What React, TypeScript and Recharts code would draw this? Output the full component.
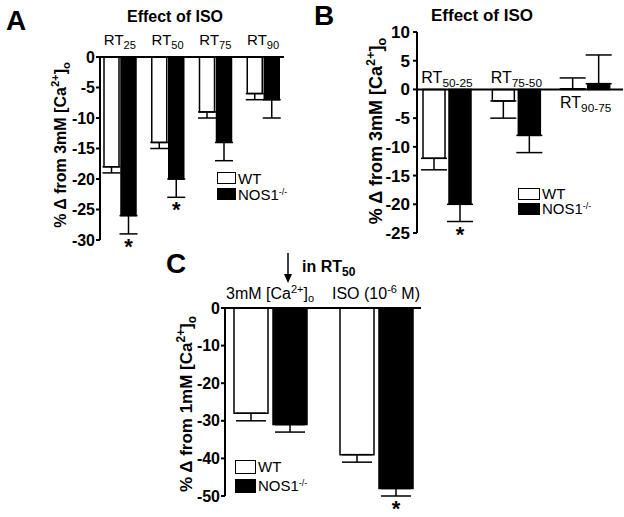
import React from 'react';
import { BarChart, Bar, XAxis, YAxis, ErrorBar, ReferenceLine, Legend } from 'recharts';

const FONT = '"Liberation Sans", Arial, Helvetica, sans-serif';

// Panel A: effect of ISO on relaxation times
const catsA = ['25', '50', '75', '90'];
const wtA = [-18, -14, -9, -6];
const wtErrA = [1, 1, 1, 1];
const nosA = [-26, -20, -14, -7];
const nosErrA = [3, 3, 3, 3];
const sigA = [true, true, false, false];
const ticksA = [0, -5, -10, -15, -20, -25, -30];

// Panel B: differences between relaxation times
const catsB = ['50-25', '75-50', '90-75'];
const wtB = [-12, -2, 0.1];
const wtErrB = [2, 3, 1.9];
const nosB = [-20, -8, 1];
const nosErrB = [3, 3, 5];
const sigB = [true, false, false];
const ticksB = [10, 5, 0, -5, -10, -15, -20, -25];

// Panel C: RT50, 3mM Ca vs ISO
const catsC = ['ca', 'iso'];
const wtC = [-28, -39];
const wtErrC = [2, 2];
const nosC = [-31, -48];
const nosErrC = [2, 2];
const sigC = [false, true];
const ticksC = [0, -10, -20, -30, -40, -50];

const legendOrder = ['WT', 'NOS1'];

// error bars only drawn away from zero
const oneSided = (v: number, e: number) => (v < 0 ? [e, 0] : [0, e]);

const buildRows = (cats: string[], wt: number[], wtErr: number[], nos: number[], nosErr: number[], sig: boolean[]) =>
  cats.map((c, i) => ({
    cat: c,
    wt: wt[i],
    nos: nos[i],
    wtErr: oneSided(wt[i], wtErr[i]),
    nosErr: oneSided(nos[i], nosErr[i]),
    err: nosErr[i],
    sig: sig[i],
  }));

const rowsA = buildRows(catsA, wtA, wtErrA, nosA, nosErrA, sigA);
const rowsB = buildRows(catsB, wtB, wtErrB, nosB, nosErrB, sigB);
const rowsC = buildRows(catsC, wtC, wtErrC, nosC, nosErrC, sigC);

const RtLabel = ({ x, y, sub, size = 15 }: any) => (
  <text x={x} y={y} textAnchor="middle" fontFamily={FONT} fontSize={size} fill="#000">
    RT<tspan fontSize={size * 0.74} dy={4}>{sub}</tspan>
  </text>
);

const RtTick = (props: any) => <RtLabel x={props.x} y={props.y - 12} sub={props.payload.value} />;

const CTick = (props: any) => {
  const { x, y, payload } = props;
  if (payload.value === 'ca') {
    return (
      <text x={x} y={y - 9} textAnchor="middle" fontFamily={FONT} fontSize={16} fill="#000">
        3mM [Ca<tspan fontSize={11} dy={-6}>2+</tspan>
        <tspan dy={6}>]</tspan>
        <tspan fontSize={11} dy={3}>o</tspan>
      </text>
    );
  }
  return (
    <text x={x} y={y - 9} textAnchor="middle" fontFamily={FONT} fontSize={16} fill="#000">
      ISO (10<tspan fontSize={11} dy={-6}>-6</tspan>
      <tspan dy={6}> M)</tspan>
    </text>
  );
};

// black bar + significance star (+ optional category label for panel B)
const makeNosShape = (gap: number, withCat: boolean) => (props: any) => {
  const { x, y, width, height, payload } = props;
  const base = y + height;
  const top = Math.min(y, base);
  const h = Math.abs(height);
  const v = payload.nos;
  const errEnd = v !== 0 ? base + ((y - base) * (v - payload.err)) / v : base;
  return (
    <g>
      <rect x={x} y={top} width={width} height={h} fill="#000" stroke="#000" strokeWidth={1.5} />
      {payload.sig && (
        <text x={x + width / 2} y={errEnd + 20} textAnchor="middle" fontFamily={FONT} fontWeight="bold" fontSize={22} fill="#000">
          *
        </text>
      )}
      {withCat && <RtLabel x={x - gap / 2} y={v > 0 ? base + 19 : base - 6} sub={payload.cat} size={16} />}
    </g>
  );
};

const LegendBox = ({ payload, box, pitch }: any) => {
  const items = [...(payload || [])].sort((a: any, b: any) => legendOrder.indexOf(a.value) - legendOrder.indexOf(b.value));
  return (
    <div style={{ fontFamily: FONT, fontSize: 15, color: '#000', lineHeight: 1 }}>
      {items.map((p: any) => (
        <div key={p.value} style={{ display: 'flex', alignItems: 'center', height: pitch, whiteSpace: 'nowrap' }}>
          <span
            style={{
              display: 'inline-block',
              width: box[0],
              height: box[1],
              background: p.color,
              border: '1.5px solid #000',
              boxSizing: 'border-box',
              marginRight: 2,
            }}
          />
          <span style={{ lineHeight: 1 }}>
            {p.value}
            {p.value === 'NOS1' && <sup style={{ fontSize: 9, verticalAlign: 5, lineHeight: 0 }}>-/-</sup>}
          </span>
        </div>
      ))}
    </div>
  );
};

const YLabel = ({ x, y, size, conc }: any) => (
  <text transform={`translate(${x},${y}) rotate(-90)`} textAnchor="middle" fontFamily={FONT} fontWeight="bold" fontSize={size} fill="#000">
    % Δ from {conc}mM [Ca<tspan fontSize={size * 0.7} dy={-7}>2+</tspan>
    <tspan dy={7}>]</tspan>
    <tspan fontSize={size * 0.7} dy={4}>o</tspan>
  </text>
);

const axisLine = { stroke: '#000', strokeWidth: 2 };
const tickStyle = (size: number) => ({ fill: '#000', fontSize: size, fontWeight: 'bold', fontFamily: FONT });

export default function App() {
  return (
    <div style={{ position: 'absolute', left: 0, top: 0, width: 624, height: 517, background: '#fff', fontFamily: FONT }}>
      {/* Panel A */}
      <div style={{ position: 'absolute', left: 0, top: 0 }}>
        <BarChart width={300} height={260} data={rowsA} margin={{ top: 37, right: 16, bottom: 20, left: 60 }} barSize={15} barGap={2}>
          <XAxis dataKey="cat" orientation="top" height={20} axisLine={axisLine} tickLine={false} tickSize={0} tickMargin={0} tick={<RtTick />} padding={{ left: -4, right: -3 }} interval={0} />
          <YAxis type="number" domain={[-30, 0]} ticks={ticksA} interval={0} width={40} axisLine={axisLine} tickLine={axisLine} tickSize={4} tickMargin={1} tick={tickStyle(16)} />
          <Bar dataKey="wt" name="WT" fill="#fff" stroke="#000" strokeWidth={1.5} isAnimationActive={false}>
            <ErrorBar dataKey="wtErr" width={9} stroke="#000" strokeWidth={1.5} direction="y" />
          </Bar>
          <Bar dataKey="nos" name="NOS1" fill="#000" stroke="#000" strokeWidth={1.5} shape={makeNosShape(2, false)} isAnimationActive={false}>
            <ErrorBar dataKey="nosErr" width={9} stroke="#000" strokeWidth={1.5} direction="y" />
          </Bar>
          <Legend layout="vertical" align="center" verticalAlign="middle" wrapperStyle={{ left: 217, top: 170, width: 90 }} content={(p: any) => <LegendBox payload={p.payload} box={[19, 12]} pitch={16} />} />
        </BarChart>
      </div>

      {/* Panel B */}
      <div style={{ position: 'absolute', left: 300, top: 0 }}>
        <BarChart width={324} height={260} data={rowsB} margin={{ top: 32, right: 1, bottom: 27, left: 77 }} barSize={22} barGap={4}>
          <XAxis dataKey="cat" hide padding={{ left: -5, right: 3 }} />
          <YAxis type="number" domain={[-25, 10]} ticks={ticksB} interval={0} width={40} axisLine={axisLine} tickLine={axisLine} tickSize={4} tickMargin={3} tick={tickStyle(17)} />
          <ReferenceLine y={0} stroke="#000" strokeWidth={2} />
          <Bar dataKey="wt" name="WT" fill="#fff" stroke="#000" strokeWidth={1.5} isAnimationActive={false}>
            <ErrorBar dataKey="wtErr" width={13} stroke="#000" strokeWidth={1.5} direction="y" />
          </Bar>
          <Bar dataKey="nos" name="NOS1" fill="#000" stroke="#000" strokeWidth={1.5} shape={makeNosShape(4, true)} isAnimationActive={false}>
            <ErrorBar dataKey="nosErr" width={13} stroke="#000" strokeWidth={1.5} direction="y" />
          </Bar>
          <Legend layout="vertical" align="center" verticalAlign="middle" wrapperStyle={{ left: 218, top: 186, width: 100 }} content={(p: any) => <LegendBox payload={p.payload} box={[22, 12]} pitch={15} />} />
        </BarChart>
      </div>

      {/* Panel C */}
      <div style={{ position: 'absolute', left: 150, top: 240 }}>
        <BarChart width={300} height={277} data={rowsC} margin={{ top: 48, right: 29, bottom: 21, left: 35 }} barSize={34} barGap={5}>
          <XAxis dataKey="cat" orientation="top" height={20} axisLine={axisLine} tickLine={false} tickSize={0} tickMargin={0} tick={<CTick />} padding={{ left: -8, right: -8 }} interval={0} />
          <YAxis type="number" domain={[-50, 0]} ticks={ticksC} interval={0} width={40} axisLine={axisLine} tickLine={axisLine} tickSize={4} tickMargin={1} tick={tickStyle(16)} />
          <Bar dataKey="wt" name="WT" fill="#fff" stroke="#000" strokeWidth={1.5} isAnimationActive={false}>
            <ErrorBar dataKey="wtErr" width={15} stroke="#000" strokeWidth={1.5} direction="y" />
          </Bar>
          <Bar dataKey="nos" name="NOS1" fill="#000" stroke="#000" strokeWidth={1.5} shape={makeNosShape(5, false)} isAnimationActive={false}>
            <ErrorBar dataKey="nosErr" width={15} stroke="#000" strokeWidth={1.5} direction="y" />
          </Bar>
          <Legend layout="vertical" align="center" verticalAlign="middle" wrapperStyle={{ left: 85, top: 217, width: 100 }} content={(p: any) => <LegendBox payload={p.payload} box={[21, 14]} pitch={19} />} />
        </BarChart>
      </div>

      {/* panel letters, titles, axis titles */}
      <svg width={624} height={517} style={{ position: 'absolute', left: 0, top: 0, pointerEvents: 'none' }}>
        <text x={6} y={30} fontFamily={FONT} fontWeight="bold" fontSize={28} fill="#000">A</text>
        <text x={175} y={22} textAnchor="middle" fontFamily={FONT} fontWeight="bold" fontSize={16} fill="#000">Effect of ISO</text>
        <YLabel x={66} y={145} size={16} conc={3} />

        <text x={314} y={25} fontFamily={FONT} fontWeight="bold" fontSize={28} fill="#000">B</text>
        <text x={482} y={21} textAnchor="middle" fontFamily={FONT} fontWeight="bold" fontSize={17} fill="#000">Effect of ISO</text>
        <YLabel x={382} y={131} size={18} conc={3} />

        <text x={166} y={273} fontFamily={FONT} fontWeight="bold" fontSize={28} fill="#000">C</text>
        <line x1={288} y1={253} x2={288} y2={276} stroke="#000" strokeWidth={1.5} />
        <polygon points="284,274 292,274 288,283" fill="#000" />
        <text x={302} y={272} fontFamily={FONT} fontWeight="bold" fontSize={16} fill="#000">
          in RT<tspan fontSize={12} dy={4}>50</tspan>
        </text>
        <YLabel x={192} y={404} size={17} conc={1} />
      </svg>
    </div>
  );
}
